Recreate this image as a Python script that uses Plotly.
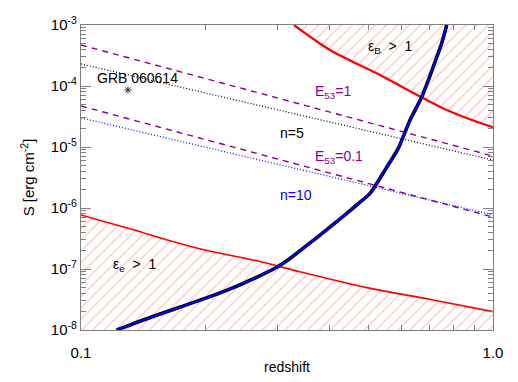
import plotly.graph_objects as go

# -----------------------------------------
# Data
# -----------------------------------------
# upper red boundary (epsilon_B > 1)
epsB_z = [0.3287, 0.402, 0.5318, 0.671, 0.772, 0.979, 1.0]
epsB_S = [1.0e-3, 3.9e-4, 1.51e-4, 6.53e-5, 4.05e-5, 2.21e-5, 2.12e-5]

# lower red boundary (epsilon_e > 1)
epse_z = [0.1, 0.134, 0.162, 0.2, 0.269, 0.34, 0.497, 0.7, 1.0]
epse_S = [7.7e-7, 4.4e-7, 3.0e-7, 2.05e-7, 1.35e-7, 9.0e-8, 4.9e-8, 3.2e-8, 2.0e-8]

# thick model curve (black + blue)
curve_z = [0.1221, 0.1416, 0.1707, 0.2056, 0.2477, 0.2985, 0.3216, 0.3664,
           0.4175, 0.4669, 0.5028, 0.5527, 0.589, 0.629, 0.671, 0.7162,
           0.7507, 0.772]
curve_S = [1.0e-8, 1.46e-8, 2.27e-8, 3.52e-8, 5.83e-8, 1.07e-7, 1.49e-7, 2.95e-7,
           5.96e-7, 1.12e-6, 1.74e-6, 4.7e-6, 9.5e-6, 2.77e-5, 6.53e-5, 2.07e-4,
           5.01e-4, 1.0e-3]

# straight limits
line_z = [0.1, 1.0]
E1_S = [4.7e-4, 7.1e-6]
E01_S = [4.7e-5, 7.1e-7]
n5_S = [2.3e-4, 6.1e-6]
n10_S = [3.0e-5, 7.7e-7]

# GRB 060614
grb_z = [0.130]
grb_S = [8.6e-5]

# axis limits / ticks
x_range = [0.1, 1.0]
y_range = [1e-8, 1e-3]
y_ticks = [1e-8, 1e-7, 1e-6, 1e-5, 1e-4, 1e-3]
y_text = ["10<sup>-8</sup>", "10<sup>-7</sup>", "10<sup>-6</sup>",
          "10<sup>-5</sup>", "10<sup>-4</sup>", "10<sup>-3</sup>"]

RED = "#ff0000"
PURPLE = "#8b008b"
BLUE = "#0000ff"
HATCH = dict(shape="/", fgcolor="rgba(255,60,60,0.75)", bgcolor="rgba(0,0,0,0)",
             size=8, solidity=0.13)

fig = go.Figure()

# -----------------------------------------
# Hatched regions
# -----------------------------------------
# lower region: between the bottom edge and the epsilon_e boundary
fig.add_trace(go.Scatter(x=x_range, y=[y_range[0], y_range[0]],
                         mode="lines", line=dict(width=0), hoverinfo="skip"))
fig.add_trace(go.Scatter(x=epse_z, y=epse_S, mode="lines",
                         line=dict(color=RED, width=1.6, shape="spline", smoothing=0.8),
                         fill="tonexty", fillpattern=HATCH, fillcolor="rgba(0,0,0,0)"))

# upper region: between the epsilon_B boundary and the top edge
fig.add_trace(go.Scatter(x=[epsB_z[0], x_range[1]], y=[y_range[1], y_range[1]],
                         mode="lines", line=dict(width=0), hoverinfo="skip"))
fig.add_trace(go.Scatter(x=epsB_z, y=epsB_S, mode="lines",
                         line=dict(color=RED, width=2.2, shape="spline", smoothing=0.8),
                         fill="tonexty", fillpattern=HATCH, fillcolor="rgba(0,0,0,0)"))

# -----------------------------------------
# Limits
# -----------------------------------------
fig.add_trace(go.Scatter(x=line_z, y=E1_S, mode="lines",
                         line=dict(color=PURPLE, width=1.4, dash="6px,5px")))
fig.add_trace(go.Scatter(x=line_z, y=E01_S, mode="lines",
                         line=dict(color=PURPLE, width=1.4, dash="6px,5px")))
fig.add_trace(go.Scatter(x=line_z, y=n5_S, mode="lines",
                         line=dict(color="black", width=1.2, dash="1px,2px")))
fig.add_trace(go.Scatter(x=line_z, y=n10_S, mode="lines",
                         line=dict(color=BLUE, width=1.2, dash="1px,2px")))

# model curve
fig.add_trace(go.Scatter(x=curve_z, y=curve_S, mode="lines",
                         line=dict(color="black", width=3.6, shape="spline", smoothing=0.6)))
fig.add_trace(go.Scatter(x=curve_z, y=curve_S, mode="lines",
                         line=dict(color=BLUE, width=1.8, shape="spline", smoothing=0.6)))

# GRB point
fig.add_trace(go.Scatter(x=grb_z, y=grb_S, mode="markers",
                         marker=dict(symbol="asterisk-open", size=6, color="#333333",
                                     line=dict(color="#333333", width=1))))

# -----------------------------------------
# Labels
# -----------------------------------------
labels = [
    (-0.862, -3.869, "GRB 060614", "black"),
    (-0.2476, -3.36, "ε<sub>B</sub>  &gt;  1", "black"),
    (-0.388, -4.098, "E<sub>53</sub>=1", PURPLE),
    (-0.488, -4.770, "n=5", "black"),
    (-0.374, -5.164, "E<sub>53</sub>=0.1", PURPLE),
    (-0.478, -5.787, "n=10", BLUE),
    (-0.871, -6.934, "ε<sub>e</sub>  &gt;  1", "black"),
]
for lx, ly, txt, col in labels:
    fig.add_annotation(x=lx, y=ly, text=txt, showarrow=False,
                       font=dict(color=col, size=14))

axis_common = dict(
    type="log",
    showgrid=False,
    zeroline=False,
    showline=True,
    linecolor="#808080",
    linewidth=1.2,
    mirror="allticks",
    ticks="inside",
    ticklen=10,
    tickcolor="#808080",
    tickfont=dict(size=15, color="black"),
    automargin=False,
    minor=dict(ticks="inside", ticklen=5, tickcolor="#808080", dtick="D1", showgrid=False),
)

# the page body adds an 8px margin, so the figure is 8px smaller each way
fig.update_layout(
    width=510,
    height=374,
    margin=dict(l=73, r=25, t=17, b=52),
    plot_bgcolor="white",
    paper_bgcolor="white",
    showlegend=False,
    font=dict(family="Liberation Sans, Arial, sans-serif", color="black", size=14),
    xaxis=dict(axis_common, range=[-1, 0], tickvals=[0.1, 1.0], ticktext=["0.1", "1.0"],
               ticklabelstandoff=9,
               title=dict(text="redshift", font=dict(size=14), standoff=2)),
    yaxis=dict(axis_common, range=[-8, -3], tickvals=y_ticks, ticktext=y_text,
               title=dict(text="S [erg cm<sup>-2</sup>]", font=dict(size=15), standoff=12)),
)

fig.write_html("out.html")
